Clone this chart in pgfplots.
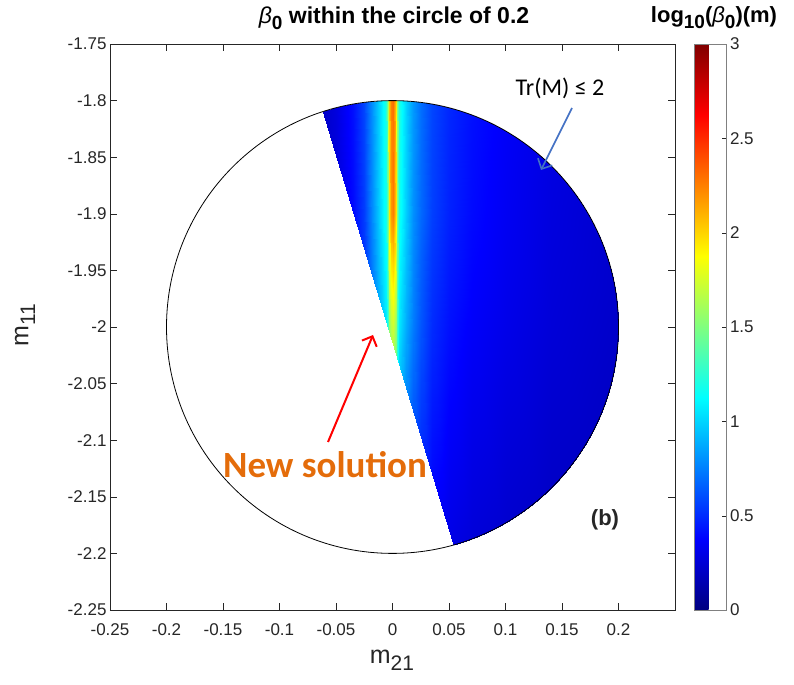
\documentclass[border=0pt]{standalone}
\usepackage{pgfplots}
\pgfplotsset{compat=1.18}
\usepackage{fontspec}
\setmainfont{Liberation Sans}
\newfontfamily\calibri{Carlito}
\usetikzlibrary{arrows.meta}
\definecolor{axgray}{RGB}{38,38,38}
\definecolor{arrowblue}{RGB}{68,114,196}
\definecolor{solorange}{RGB}{228,108,10}
\newcommand{\fs}[1]{\fontsize{#1bp}{#1bp}\selectfont}
\newcommand{\sub}[1]{\raisebox{-0.5ex}{#1}}
\begin{document}
\begin{tikzpicture}
\useasboundingbox (-110bp,-75bp) rectangle (684bp,610bp);
\begin{axis}[
  scale only axis, width=565bp, height=566bp,
  at={(0,0)}, anchor=south west,
  xmin=-0.25,xmax=0.25,ymin=-2.25,ymax=-1.75,
  xtick={-0.25,-0.2,-0.15,-0.1,-0.05,0,0.05,0.1,0.15,0.2},
  xticklabels={-0.25,-0.2,-0.15,-0.1,-0.05,0,0.05,0.1,0.15,0.2},
  ytick={-2.25,-2.2,-2.15,-2.1,-2.05,-2,-1.95,-1.9,-1.85,-1.8,-1.75},
  yticklabels={-2.25,-2.2,-2.15,-2.1,-2.05,-2,-1.95,-1.9,-1.85,-1.8,-1.75},
  xtick pos=both, ytick pos=both, tick align=inside,
  major tick length=7bp,
  axis line style={axgray, line width=0.8bp},
  tick style={axgray, line width=0.6bp},
  ticklabel style={font=\fs{17}, text=axgray},
  xticklabel style={yshift=-10bp},
  colormap/jet,
  point meta min=0, point meta max=3,
  colorbar,
  colorbar style={at={(parent axis.north east)}, anchor=north west, xshift=11bp, width=32bp,
    ytick={0,0.5,1,1.5,2,2.5,3}, yticklabels={0,0.5,1,1.5,2,2.5,3},
    ytick pos=right, yticklabel pos=right,
    yticklabel style={font=\fs{17}, text=axgray},
    major tick length=5bp, tick align=inside,
    axis line style={black!50, line width=0.6bp}, tick style={axgray}},
  axis on top,
  clip mode=individual,
]
\begin{scope}
\clip (axis cs:0,-2) circle[radius=0.2];
\clip (axis cs:-0.1185,-1.6225) -- (axis cs:0.1115,-2.3835) -- (axis cs:0.4,-2.4) -- (axis cs:0.4,-1.6) -- cycle;
\addplot[surf, shader=interp, mesh/cols=26, point meta=explicit] table[x=x, y=y, meta=v] {
x y v
-0.07 -2.21 0.12
-0.05 -2.21 0.18
-0.035 -2.21 0.25
-0.025 -2.21 0.32
-0.018 -2.21 0.42
-0.012 -2.21 0.52
-0.008 -2.21 0.6
-0.0055 -2.21 0.68
-0.004 -2.21 0.78
-0.003 -2.21 0.88
-0.0015 -2.21 0.98
0 -2.21 1.02
0.0015 -2.21 0.98
0.003 -2.21 0.88
0.004 -2.21 0.78
0.0055 -2.21 0.68
0.008 -2.21 0.6
0.012 -2.21 0.52
0.018 -2.21 0.45
0.025 -2.21 0.4
0.035 -2.21 0.34
0.05 -2.21 0.29
0.07 -2.21 0.25
0.1 -2.21 0.22
0.14 -2.21 0.19
0.21 -2.21 0.16
-0.07 -2.0 0.15
-0.05 -2.0 0.24
-0.035 -2.0 0.36
-0.025 -2.0 0.5
-0.018 -2.0 0.7
-0.012 -2.0 0.88
-0.008 -2.0 0.98
-0.0055 -2.0 1.06
-0.004 -2.0 1.3
-0.003 -2.0 1.55
-0.0015 -2.0 1.68
0 -2.0 1.72
0.0015 -2.0 1.68
0.003 -2.0 1.55
0.004 -2.0 1.3
0.0055 -2.0 1.06
0.008 -2.0 0.98
0.012 -2.0 0.88
0.018 -2.0 0.74
0.025 -2.0 0.62
0.035 -2.0 0.5
0.05 -2.0 0.42
0.07 -2.0 0.36
0.1 -2.0 0.31
0.14 -2.0 0.26
0.21 -2.0 0.21
-0.07 -1.9 0.16
-0.05 -1.9 0.26
-0.035 -1.9 0.4
-0.025 -1.9 0.55
-0.018 -1.9 0.78
-0.012 -1.9 0.98
-0.008 -1.9 1.1
-0.0055 -1.9 1.18
-0.004 -1.9 1.5
-0.003 -1.9 1.95
-0.0015 -1.9 2.18
0 -1.9 2.25
0.0015 -1.9 2.18
0.003 -1.9 1.95
0.004 -1.9 1.5
0.0055 -1.9 1.18
0.008 -1.9 1.1
0.012 -1.9 0.98
0.018 -1.9 0.8
0.025 -1.9 0.68
0.035 -1.9 0.56
0.05 -1.9 0.47
0.07 -1.9 0.4
0.1 -1.9 0.34
0.14 -1.9 0.28
0.21 -1.9 0.22
-0.07 -1.79 0.17
-0.05 -1.79 0.28
-0.035 -1.79 0.42
-0.025 -1.79 0.58
-0.018 -1.79 0.8
-0.012 -1.79 1.0
-0.008 -1.79 1.12
-0.0055 -1.79 1.22
-0.004 -1.79 1.58
-0.003 -1.79 2.02
-0.0015 -1.79 2.25
0 -1.79 2.32
0.0015 -1.79 2.25
0.003 -1.79 2.02
0.004 -1.79 1.58
0.0055 -1.79 1.22
0.008 -1.79 1.12
0.012 -1.79 1.0
0.018 -1.79 0.83
0.025 -1.79 0.7
0.035 -1.79 0.58
0.05 -1.79 0.49
0.07 -1.79 0.42
0.1 -1.79 0.36
0.14 -1.79 0.3
0.21 -1.79 0.24
};
\end{scope}
\draw[black, line width=0.8bp] (axis cs:0,-2) circle[radius=0.2];
\end{axis}
\node[font=\bfseries\fs{23}] at (284bp,592bp) {{\mdseries\itshape β}\sub{\fs{19}0} within the circle of 0.2};
\node[font=\bfseries\fs{22}] at (604bp,592bp) {log\sub{\fs{19}10}({\mdseries\itshape β}\sub{\fs{19}0})(m)};
\node[rotate=90, font=\fs{25}, text=axgray] at (-85bp,285bp) {m\sub{\fs{21}11}};
\node[font=\fs{25}, text=axgray] at (282bp,-50bp) {m\sub{\fs{21}21}};
\node[font=\calibri\fs{24}] at (450bp,522bp) {Tr(M) ≤ 2};
\draw[arrowblue, line width=1.6bp, -{Straight Barb[length=8bp,width=16bp]}] (462bp,502bp) -- (431bp,440bp);
\draw[red, line width=2bp, -{Straight Barb[length=8bp,width=16bp]}] (218bp,168bp) -- (263bp,275bp);
\node[font=\calibri\bfseries\fs{37}, text=solorange] at (215bp,145bp) {New solution};
\node[font=\bfseries\fs{22}, text=axgray] at (495bp,90bp) {(b)};
\end{tikzpicture}
\end{document}
